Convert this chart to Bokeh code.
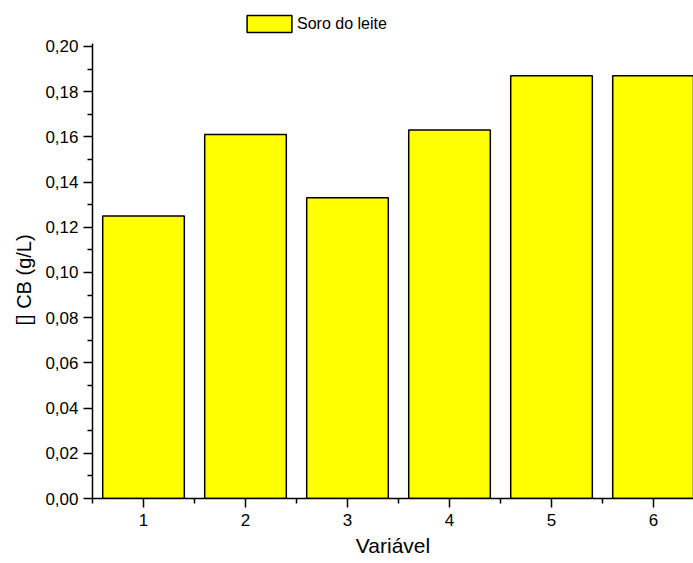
from bokeh.plotting import figure
from bokeh.models import Range1d, FixedTicker, Legend, LegendItem, ColumnDataSource, Title
from bokeh.embed import file_html
from bokeh.resources import INLINE

# ---- data ----
variavel = [1, 2, 3, 4, 5, 6]
cb = [0.125, 0.161, 0.133, 0.163, 0.187, 0.187]
series_name = "Soro do leite"
y_ticks = [0.00, 0.02, 0.04, 0.06, 0.08, 0.10, 0.12, 0.14, 0.16, 0.18, 0.20]
y_minor = [0.01, 0.03, 0.05, 0.07, 0.09, 0.11, 0.13, 0.15, 0.17, 0.19]
y_tick_labels = ["0,00", "0,02", "0,04", "0,06", "0,08", "0,10",
                 "0,12", "0,14", "0,16", "0,18", "0,20"]
y_axis_end = 0.2013
x_ticks = [1, 2, 3, 4, 5, 6]
x_minor = [0.5, 1.5, 2.5, 3.5, 4.5, 5.5]
x_label = "Variável"
y_label = "[] CB (g/L)"

FONT = "Liberation Sans"

src = ColumnDataSource(dict(x=variavel, top=cb))

p = figure(width=693, height=563, output_backend="svg", toolbar_location=None,
           x_range=Range1d(0.5, 6.392), y_range=Range1d(0, 0.2181),
           min_border_left=92, min_border_right=0, min_border_top=5,
           min_border_bottom=65)
p.outline_line_color = None
p.xgrid.visible = False
p.ygrid.visible = False
p.background_fill_color = "white"
p.border_fill_color = "white"

r = p.vbar(x="x", top="top", width=0.8, bottom=0, source=src,
           fill_color="#FFFF00", line_color="black", line_width=1.5)

for ax in (p.xaxis[0], p.yaxis[0]):
    ax.axis_line_width = 1.5
    ax.axis_line_color = "black"
    ax.major_tick_line_width = 1.5
    ax.minor_tick_line_width = 1.5
    ax.major_tick_line_color = "black"
    ax.minor_tick_line_color = "black"
    ax.major_tick_in = 0
    ax.major_tick_out = 9
    ax.minor_tick_in = 0
    ax.minor_tick_out = 5
    ax.major_label_text_font = FONT
    ax.major_label_text_font_size = "17px"
    ax.major_label_text_color = "black"
    ax.axis_label_text_font = FONT
    ax.axis_label_text_font_style = "normal"
    ax.axis_label_text_color = "black"

p.yaxis[0].bounds = (0, y_axis_end)
p.yaxis[0].ticker = FixedTicker(ticks=y_ticks, minor_ticks=y_minor)
p.yaxis[0].major_label_overrides = {t: l for t, l in zip(y_ticks, y_tick_labels)}
p.yaxis[0].major_label_standoff = 5

ytitle = Title(text=y_label, align="left", offset=173, standoff=15,
               text_font=FONT, text_font_size="20px", text_font_style="normal",
               text_color="black")
p.add_layout(ytitle, "left")

p.xaxis[0].ticker = FixedTicker(ticks=x_ticks, minor_ticks=x_minor)
p.xaxis[0].major_label_standoff = 6
p.xaxis[0].axis_label = x_label
p.xaxis[0].axis_label_text_font_size = "21px"
p.xaxis[0].axis_label_standoff = 5

legend = Legend(items=[LegendItem(label=series_name, renderers=[r])],
                location=(149, 464), margin=0, padding=0, spacing=0,
                border_line_color=None, background_fill_alpha=0,
                glyph_width=56, glyph_height=21, label_height=21,
                label_standoff=0, label_text_font=FONT,
                label_text_font_size="16px", label_text_color="black")
p.add_layout(legend, "center")

open("out.html", "w").write(file_html(p, INLINE))
